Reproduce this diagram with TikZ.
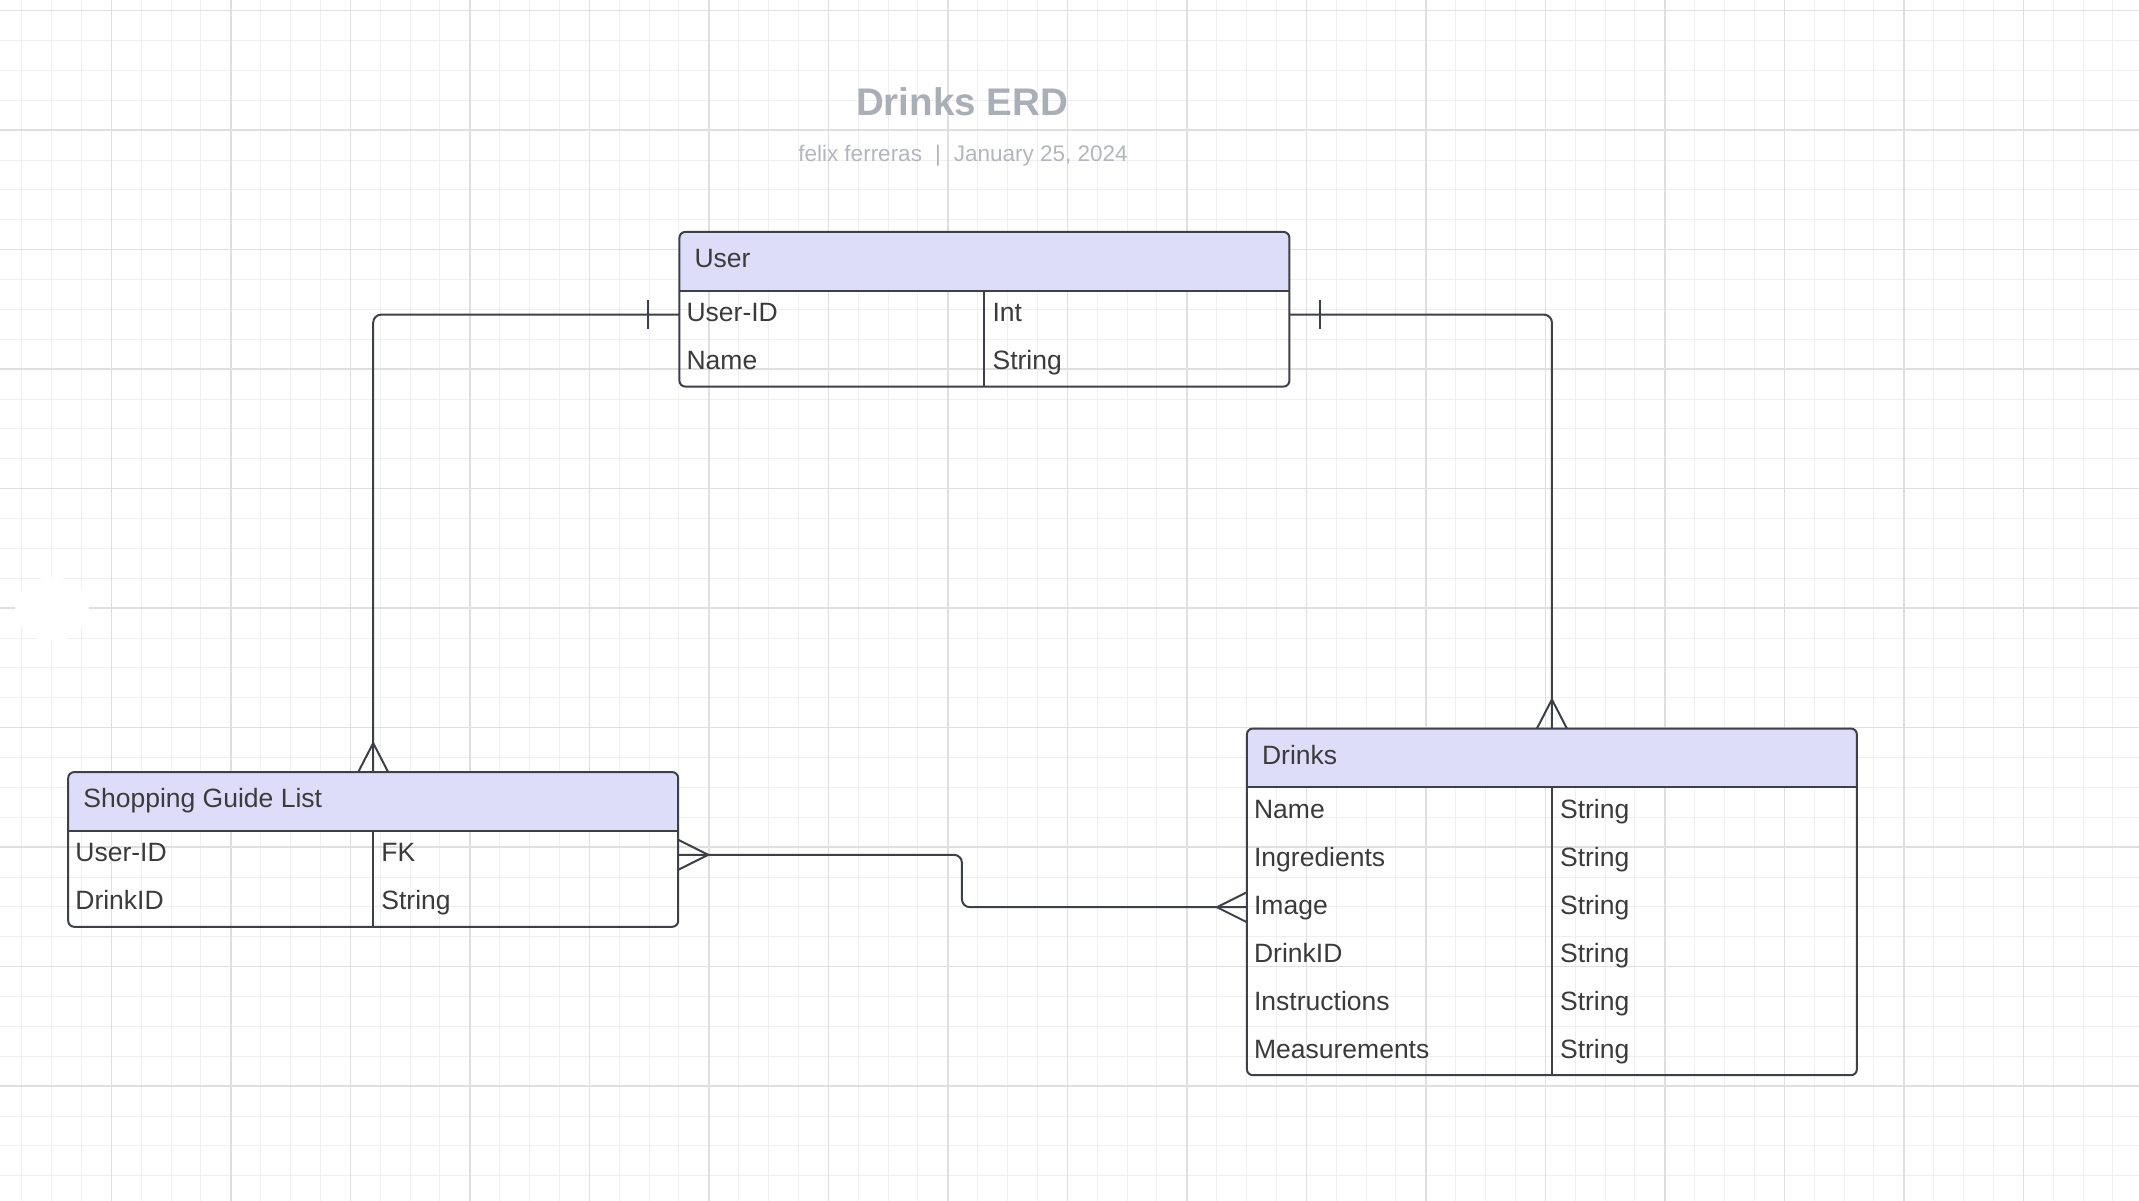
\documentclass[tikz,border=0pt]{standalone}
\usepackage{fontspec}
\setmainfont{Liberation Sans}
\usetikzlibrary{calc}

\definecolor{gridminor}{HTML}{EFEFEF}
\definecolor{gridmajor}{HTML}{DFDFDF}
\definecolor{hdrfill}{HTML}{DDDDFA}
\definecolor{edge}{HTML}{3D4048}
\definecolor{celltext}{HTML}{3B3B3B}
\definecolor{titletext}{HTML}{AAAEB7}
\definecolor{subtext}{HTML}{B3B6BD}

\tikzset{
  ent/.style={draw=edge,line width=2pt,rounded corners=6pt,anchor=north west,
    minimum width=610pt,inner sep=0pt,outer sep=0pt,
    path picture={\fill[hdrfill,sharp corners] (path picture bounding box.north west)
      rectangle ([yshift=-58.7pt]path picture bounding box.north east);}},
  hdrtext/.style={anchor=base west,inner sep=0pt,text=celltext,font=\fontsize{26.5}{30}\selectfont},
  celltxt/.style={anchor=base west,inner sep=0pt,text=celltext,font=\fontsize{26.5}{30}\selectfont},
  ln/.style={draw=edge,line width=2pt},
  conn/.style={draw=edge,line width=2pt,rounded corners=8pt},
}

\begin{document}
\begin{tikzpicture}[x=1pt,y=-1pt]
    \useasboundingbox[fill=white] (0,0) rectangle (2139,1201);
    \foreach \i in {0,...,71}{
      \draw[gridminor,line width=1pt] ({21.7+29.875*\i},0) -- ++(0,1201);
    }
    \foreach \i in {0,...,40}{
      \draw[gridminor,line width=1pt] (0,{10.7+29.875*\i}) -- ++(2139,0);
    }
    \foreach \i in {1,...,18}{
      \draw[gridmajor,line width=1.5pt] ({-8.2+119.5*\i},0) -- ++(0,1201);
    }
    \foreach \i in {0,...,10}{
      \draw[gridmajor,line width=1.5pt] (0,{10.7+119.5*\i}) -- ++(2139,0);
    }
    \fill[white] (52,609) ellipse [x radius=37, y radius=32];

    \node[text=titletext,anchor=base,inner sep=0pt,font=\fontsize{38.5}{44}\selectfont\bfseries]
      (title) at (962,115.7) {Drinks ERD};
    \node[text=subtext,anchor=base,inner sep=0pt,font=\fontsize{22.5}{26}\selectfont]
      (byline) at (963,161.7) {felix ferreras\hspace{13pt}|\hspace{13pt}January 25, 2024};

    \node[ent,minimum height=154.7pt] (user) at (679.4,231.9) {};
    \node[ent,minimum height=154.7pt] (shop) at (68.2,772.1) {};
    \node[ent,minimum height=346.7pt] (drinks) at (1246.9,728.5) {};

    \foreach \e/\t in {user/User,shop/Shopping Guide List,drinks/Drinks}{
      \draw[ln] ($(\e.north west)+(0,58.7)$) -- ($(\e.north east)+(0,58.7)$);
      \draw[ln] ($(\e.north)+(0,58.7)$) -- (\e.south);
      \node[hdrtext] (\e-t) at ($(\e.north west)+(15,35.5)$) {\t};
    }

    \foreach \k/\v [count=\i] in {User-ID/Int,Name/String}{
      \coordinate (user-r\i) at ($(user.north west)+(0,{34.7+48*\i})$);
      \node[celltxt] (user-k\i) at ($(user.north west)+(7,{41.7+48*\i})$) {\k};
      \node[celltxt] (user-v\i) at ($(user.north)+(8,{41.7+48*\i})$) {\v};
    }
    \foreach \k/\v [count=\i] in {User-ID/FK,DrinkID/String}{
      \coordinate (shop-r\i) at ($(shop.north west)+(0,{34.7+48*\i})$);
      \node[celltxt] (shop-k\i) at ($(shop.north west)+(7,{41.7+48*\i})$) {\k};
      \node[celltxt] (shop-v\i) at ($(shop.north)+(8,{41.7+48*\i})$) {\v};
    }
    \foreach \k/\v [count=\i] in {Name/String,Ingredients/String,Image/String,
        DrinkID/String,Instructions/String,Measurements/String}{
      \coordinate (drinks-r\i) at ($(drinks.north west)+(0,{34.7+48*\i})$);
      \node[celltxt] (drinks-k\i) at ($(drinks.north west)+(7,{41.7+48*\i})$) {\k};
      \node[celltxt] (drinks-v\i) at ($(drinks.north)+(8,{41.7+48*\i})$) {\v};
    }

    \draw[conn] (user.west |- user-r1) -| (shop.north);
    \draw[conn] (user.east |- user-r1) -| (drinks.north);
    \draw[conn] (shop.east |- shop-r1) -- ++(283.7,0) |- (drinks.west |- drinks-r3);

    \draw[ln] ($(user.west |- user-r1)+(-31,-14.5)$) -- ++(0,29);
    \draw[ln] ($(user.east |- user-r1)+(31,-14.5)$) -- ++(0,29);
    \draw[ln] ($(shop.north)+(-15,0)$) -- ++(15,-29) -- ++(15,29);
    \draw[ln] ($(drinks.north)+(-15,0)$) -- ++(15,-29) -- ++(15,29);
    \draw[ln] ($(shop.east |- shop-r1)+(0,-15)$) -- ++(30,15) -- ++(-30,15);
    \draw[ln] ($(drinks.west |- drinks-r3)+(0,-15)$) -- ++(-30,15) -- ++(30,15);
\end{tikzpicture}
\end{document}
